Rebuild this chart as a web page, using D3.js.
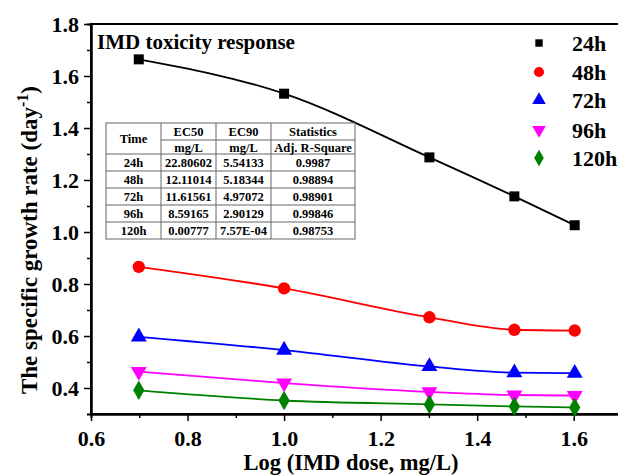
<!DOCTYPE html>
<html><head><meta charset="utf-8">
<script src="https://cdn.jsdelivr.net/npm/d3@7"></script>
<style>
html,body{margin:0;padding:0;background:#fff;}
</style></head>
<body><svg id="chart" width="618" height="475"></svg>
<script>
const doses = [0.699, 1.0, 1.301, 1.477, 1.602];
const series = ["24h","48h","72h","96h","120h"];
const v24 = [1.664, 1.532, 1.287, 1.137, 1.026];
const v48 = [0.866, 0.783, 0.672, 0.624, 0.621];
const v72 = [0.597, 0.546, 0.483, 0.459, 0.457];
const v96 = [0.463, 0.419, 0.385, 0.373, 0.371];
const v120 = [0.391, 0.352, 0.337, 0.329, 0.325];
const colors = ["#000000","#ff0000","#0000ff","#ff00ff","#008000"];
const symbols = [d3.symbolSquare, d3.symbolCircle, d3.symbolTriangle, "down", d3.symbolDiamond];
const xTicks = [0.6, 0.8, 1.0, 1.2, 1.4, 1.6];
const yTicks = [0.4, 0.6, 0.8, 1.0, 1.2, 1.4, 1.6, 1.8];
const tableHeader1 = ["Time","EC50","EC90","Statistics"];
const tableHeader2 = ["", "mg/L", "mg/L", "Adj. R-Square"];
const tableTime = ["24h","48h","72h","96h","120h"];
const tableEC50 = ["22.80602","12.11014","11.61561","8.59165","0.00777"];
const tableEC90 = ["5.54133","5.18344","4.97072","2.90129","7.57E-04"];
const tableR2 = ["0.9987","0.98894","0.98901","0.99846","0.98753"];

const FONT = "'Liberation Serif', 'Times New Roman', Times, serif";
const allValues = [v24, v48, v72, v96, v120];
const svg = d3.select("#chart");
const x = d3.scaleLinear().domain([0.6, 1.7]).range([91, 622]);
const y = d3.scaleLinear().domain([0.3, 1.8]).range([414, 24]);

// frame
svg.append("rect").attr("x", x(0.6)).attr("y", y(1.8)).attr("width", x(1.7)-x(0.6)).attr("height", y(0.3)-y(1.8))
  .attr("fill","none").attr("stroke","#000").attr("stroke-width",2);

// x axis
const xAxis = svg.append("g").attr("transform",`translate(0,${y(0.3)})`);
xAxis.call(d3.axisBottom(x).tickValues(xTicks).tickFormat(d3.format(".1f")).tickSize(7).tickSizeOuter(0));
xAxis.selectAll(".tick text").attr("font-size",22).attr("dy","1.0em");
xAxis.append("g").call(d3.axisBottom(x).tickValues(d3.range(0.7,1.71,0.2)).tickSize(4).tickFormat(""));
xAxis.selectAll("line").attr("stroke-width",1.5);
// y axis
const yAxis = svg.append("g").attr("transform",`translate(${x(0.6)},0)`);
yAxis.call(d3.axisLeft(y).tickValues(yTicks).tickFormat(d3.format(".1f")).tickSize(7).tickSizeOuter(0));
yAxis.selectAll(".tick text").attr("font-size",22).attr("x",-12).attr("dy","0.35em");
yAxis.append("g").call(d3.axisLeft(y).tickValues(d3.range(0.5,1.8,0.2)).tickSize(4).tickFormat(""));
yAxis.selectAll("line").attr("stroke-width",1.5);
svg.selectAll(".domain").attr("stroke-width",2);
svg.selectAll("g").attr("font-family", null);

// axis titles
svg.append("text").attr("x",351).attr("y",470).attr("text-anchor","middle").attr("font-size",22.5)
  .text("Log (IMD dose, mg/L)");
const yt = svg.append("text").attr("transform","translate(37,240) rotate(-90)").attr("text-anchor","middle").attr("font-size",23);
yt.append("tspan").text("The specific growth rate (day");
yt.append("tspan").attr("dy",-9).attr("font-size",16).text("-1");
yt.append("tspan").attr("dy",9).text(")");

// title
svg.append("text").attr("x",97).attr("y",49).attr("font-size",21).text("IMD toxicity response");

// lines & markers
const line = d3.line().x((d,i)=>x(doses[i])).y(d=>y(d)).curve(d3.curveMonotoneX);
function sym(k, size){
  if (symbols[k]==="down") return d3.symbol().type(d3.symbolTriangle).size(size)();
  return d3.symbol().type(symbols[k]).size(size)();
}
const sizes = [100, 120, 110, 110, 110];
allValues.forEach((vals,k)=>{
  svg.append("path").attr("d", line(vals)).attr("fill","none").attr("stroke",colors[k]).attr("stroke-width",1.8);
  svg.append("g").selectAll("path").data(vals).join("path")
    .attr("d", sym(k, sizes[k]))
    .attr("transform",(d,i)=>`translate(${x(doses[i])},${y(d)})${symbols[k]==="down"?" rotate(180)":""}`)
    .attr("fill",colors[k]);
});

// legend
const legY = [43, 72, 100, 130, 158];
const legSizes = [55, 80, 80, 80, 80];
series.forEach((s,k)=>{
  svg.append("path").attr("d", sym(k, legSizes[k]))
    .attr("transform",`translate(539,${legY[k]})${symbols[k]==="down"?" rotate(180)":""}`)
    .attr("fill",colors[k]);
  svg.append("text").attr("x",572).attr("y",legY[k]+8).attr("font-size",22).text(s);
});

// table
const colX = [106, 161, 216, 271, 355];
const rowY = [123, 140, 154, 171, 188, 205, 222, 239];
const tg = svg.append("g");
tg.append("rect").attr("x",colX[0]).attr("y",rowY[0]).attr("width",colX[4]-colX[0]).attr("height",rowY[7]-rowY[0])
  .attr("fill","#fff").attr("stroke","#666").attr("stroke-width",1);
colX.slice(1,4).forEach(cx=>tg.append("line").attr("x1",cx).attr("x2",cx).attr("y1",rowY[0]).attr("y2",rowY[7]).attr("stroke","#666"));
tg.append("line").attr("x1",colX[1]).attr("x2",colX[4]).attr("y1",rowY[1]).attr("y2",rowY[1]).attr("stroke","#666");
rowY.slice(2,7).forEach(ry=>tg.append("line").attr("x1",colX[0]).attr("x2",colX[4]).attr("y1",ry).attr("y2",ry).attr("stroke","#666"));
const cxm = i => (colX[i]+colX[i+1])/2;
const fs = 12.5;
tableHeader1.forEach((h,i)=>{
  const yy = i===0 ? (rowY[0]+rowY[2])/2+4.5 : (rowY[0]+rowY[1])/2+4.5;
  tg.append("text").attr("x",cxm(i)).attr("y",yy).attr("text-anchor","middle").attr("font-size",fs).text(h);
});
tableHeader2.forEach((h,i)=>{
  if(!h) return;
  tg.append("text").attr("x",cxm(i)).attr("y",(rowY[1]+rowY[2])/2+4.5).attr("text-anchor","middle").attr("font-size",fs).text(h);
});
tableTime.forEach((t,r)=>{
  const yy = (rowY[r+2]+rowY[r+3])/2+4.5;
  [t, tableEC50[r], tableEC90[r], tableR2[r]].forEach((v,i)=>{
    tg.append("text").attr("x",cxm(i)).attr("y",yy).attr("text-anchor","middle").attr("font-size",fs).text(v);
  });
});
svg.selectAll("text").attr("font-family", FONT).attr("font-weight","bold").attr("fill","#000");
</script></body></html>
